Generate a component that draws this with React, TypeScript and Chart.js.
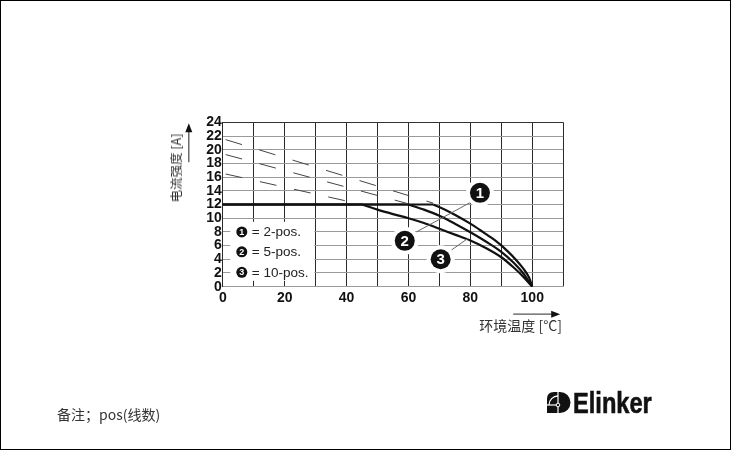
import React, { useEffect, useRef } from "react";
import { Chart, registerables } from "chart.js";

Chart.register(...registerables);

// ---- data ----
const X_LABELED_TICKS = [0, 20, 40, 60, 80, 100];
const Y_TICKS_MAX = 24;
const X_AXIS_MAX = 110;

// flat part at 12 A until derating starts
const FLAT_CURRENT = 12;
const FLAT_END = [68, 60, 45]; // 2-pos, 5-pos, 10-pos

// derating parts
const TEMP_1 = [68, 72, 76, 80, 84, 88, 92, 95, 97, 99, 100];
const CURR_1 = [12, 11.2, 10.25, 9.2, 8.0, 6.75, 5.2, 3.8, 2.7, 1.3, 0];
const TEMP_2 = [60, 65, 70, 75, 80, 85, 90, 94, 97, 100];
const CURR_2 = [12, 11.25, 10.35, 9.2, 7.95, 6.6, 5.1, 3.5, 2.0, 0];
const TEMP_3 = [45, 50, 55, 60, 65, 70, 75, 80, 85, 90, 94, 97, 100];
const CURR_3 = [12, 11.25, 10.6, 10.0, 9.3, 8.45, 7.6, 6.75, 5.65, 4.3, 2.8, 1.5, 0];

// dashed extension lines (start, end)
const DASH_TEMP = [
  [0, 68],
  [0, 60],
  [0, 45],
];
const DASH_CURR = [
  [21.6, 12.2],
  [19.4, 12.1],
  [16.55, 12.0],
];

const LEGEND_LABELS = ["2-pos.", "5-pos.", "10-pos."];
const LEGEND_ROW_Y = [8, 5.1, 2.1];

// callouts (data coordinates)
const CALLOUT_NUM = ["1", "2", "3"];
const CALLOUT_T = [83.1, 58.8, 70.4];
const CALLOUT_A = [13.7, 6.7, 4.0];
const LEADER_T = [
  [62.6, 80.4],
  [73.9, 79.3],
];
const LEADER_A = [
  [8.0, 12.4],
  [5.36, 7.07],
];

const pts = (xs: number[], ys: number[]) => xs.map((x, i) => ({ x, y: ys[i] }));

const FONT = "'Liberation Sans', Arial, Helvetica, sans-serif";

const overlay = {
  id: "overlay",
  beforeDatasetsDraw(chart: any) {
    const { ctx, chartArea: ca, scales } = chart;
    const y = scales.y;
    ctx.save();
    ctx.fillStyle = "#fff";
    ctx.fillRect(ca.left + 7.5, ca.top + 99.5, 84, 59);
    LEGEND_LABELS.forEach((lab, i) => {
      const cy = y.getPixelForValue(LEGEND_ROW_Y[i]);
      const cx = ca.left + 19;
      ctx.beginPath();
      ctx.arc(cx, cy, 5.5, 0, Math.PI * 2);
      ctx.fillStyle = "#111";
      ctx.fill();
      ctx.fillStyle = "#fff";
      ctx.font = `bold 9px ${FONT}`;
      ctx.textAlign = "center";
      ctx.textBaseline = "middle";
      ctx.fillText(String(i + 1), cx, cy + 0.5);
      ctx.fillStyle = "#222";
      ctx.font = `13.5px ${FONT}`;
      ctx.textAlign = "left";
      ctx.fillText("= " + lab, cx + 10, cy + 0.5);
    });
    ctx.restore();
  },
  afterDatasetsDraw(chart: any) {
    const { ctx, scales } = chart;
    const { x, y } = scales;
    ctx.save();
    ctx.strokeStyle = "#666";
    ctx.lineWidth = 1;
    LEADER_T.forEach((ts, i) => {
      ctx.beginPath();
      ctx.moveTo(x.getPixelForValue(ts[0]), y.getPixelForValue(LEADER_A[i][0]));
      ctx.lineTo(x.getPixelForValue(ts[1]), y.getPixelForValue(LEADER_A[i][1]));
      ctx.stroke();
    });
    CALLOUT_NUM.forEach((n, i) => {
      const cx = x.getPixelForValue(CALLOUT_T[i]);
      const cy = y.getPixelForValue(CALLOUT_A[i]);
      ctx.beginPath();
      ctx.arc(cx, cy, 14, 0, Math.PI * 2);
      ctx.fillStyle = "#fff";
      ctx.fill();
      ctx.beginPath();
      ctx.arc(cx, cy, 10, 0, Math.PI * 2);
      ctx.fillStyle = "#111";
      ctx.fill();
      ctx.fillStyle = "#fff";
      ctx.font = `bold 15px ${FONT}`;
      ctx.textAlign = "center";
      ctx.textBaseline = "middle";
      ctx.fillText(n, cx, cy + 1);
    });
    ctx.restore();
  },
  afterDraw(chart: any) {
    const { ctx, chartArea: ca } = chart;
    ctx.save();
    // y arrow
    const ax = ca.left - 34;
    ctx.strokeStyle = "#555";
    ctx.lineWidth = 1.3;
    ctx.beginPath();
    ctx.moveTo(ax, ca.top + 40);
    ctx.lineTo(ax, ca.top + 8);
    ctx.stroke();
    ctx.fillStyle = "#111";
    ctx.beginPath();
    ctx.moveTo(ax, ca.top + 1);
    ctx.lineTo(ax - 3.5, ca.top + 10);
    ctx.lineTo(ax + 3.5, ca.top + 10);
    ctx.closePath();
    ctx.fill();
    // x arrow
    const ay = ca.bottom + 27.5;
    ctx.beginPath();
    ctx.moveTo(ca.right - 50, ay);
    ctx.lineTo(ca.right - 10, ay);
    ctx.stroke();
    ctx.beginPath();
    ctx.moveTo(ca.right - 3, ay);
    ctx.lineTo(ca.right - 12, ay - 3.5);
    ctx.lineTo(ca.right - 12, ay + 3.5);
    ctx.closePath();
    ctx.fill();
    ctx.restore();
  },
};

export default function App() {
  const ref = useRef<HTMLCanvasElement>(null);

  useEffect(() => {
    if (!ref.current) return;
    const curveStyle = {
      borderColor: "#111",
      borderWidth: 2.2,
      pointRadius: 0,
      fill: false,
      cubicInterpolationMode: "monotone" as const,
    };
    const flats = FLAT_END.map((t) => ({
      ...curveStyle,
      data: pts([0, t], [FLAT_CURRENT, FLAT_CURRENT]),
    }));
    const declines = [
      pts(TEMP_1, CURR_1),
      pts(TEMP_2, CURR_2),
      pts(TEMP_3, CURR_3),
    ].map((d) => ({ ...curveStyle, data: d }));
    const dashes = DASH_TEMP.map((ts, i) => ({
      data: pts(ts, DASH_CURR[i]),
      borderColor: "#444",
      borderWidth: 1,
      borderDash: [17, 18],
      borderDashOffset: -3,
      pointRadius: 0,
      fill: false,
    }));

    const chart = new Chart(ref.current, {
      type: "line",
      data: { datasets: [...dashes, ...flats, ...declines] as any },
      options: {
        animation: false,
        responsive: false,
        devicePixelRatio: 1,
        parsing: false as any,
        layout: { padding: { left: 182.8, right: 167.8, top: 122.3, bottom: 133.3 } },
        plugins: { legend: { display: false }, tooltip: { enabled: false } },
        scales: {
          x: {
            type: "linear",
            min: 0,
            max: X_AXIS_MAX,
            afterFit: (s: any) => {
              s.height = 30;
            },
            ticks: {
              stepSize: 10,
              autoSkip: false,
              maxRotation: 0,
              padding: 3,
              color: "#111",
              font: { family: FONT, size: 14, weight: "bold" },
              callback: (v: any) => (X_LABELED_TICKS.includes(Number(v)) ? String(v) : ""),
            },
            grid: { color: "#2a2a2a", lineWidth: 1, drawTicks: false },
            border: { display: true, color: "#9a9a9a", width: 1 },
          },
          y: {
            type: "linear",
            min: 0,
            max: Y_TICKS_MAX,
            afterFit: (s: any) => {
              s.width = 40;
            },
            ticks: {
              stepSize: 2,
              autoSkip: false,
              padding: 1,
              color: "#111",
              font: { family: FONT, size: 14, weight: "bold" },
            },
            grid: {
              color: (c: any) => (c.tick && c.tick.value === Y_TICKS_MAX ? "#333" : "#9a9a9a"),
              lineWidth: 1,
              drawTicks: false,
            },
            border: { display: true, color: "#2a2a2a", width: 1 },
          },
        },
      },
      plugins: [overlay],
    });
    return () => chart.destroy();
  }, []);

  return (
    <div
      style={{
        position: "fixed",
        left: 0,
        top: 0,
        width: 731,
        height: 450,
        background: "#fff",
        overflow: "hidden",
      }}
    >
      <canvas
        ref={ref}
        width={731}
        height={450}
        style={{ position: "absolute", left: 0, top: 0, width: 731, height: 450 }}
      />
      <div
        style={{
          position: "absolute",
          left: 175.5,
          top: 167.5,
          transform: "translate(-50%, -50%) rotate(-90deg)",
          font: "12.5px 'Noto Sans CJK SC', sans-serif",
          lineHeight: "14px",
          color: "#333",
          whiteSpace: "nowrap",
        }}
      >
        电流强度 [A]
      </div>
      <div
        style={{
          position: "absolute",
          right: 169,
          top: 316,
          font: "14px 'Noto Sans CJK SC', sans-serif",
          lineHeight: "18px",
          color: "#333",
          whiteSpace: "nowrap",
        }}
      >
        环境温度 [°C]
      </div>
      <div
        style={{
          position: "absolute",
          left: 57,
          top: 405,
          font: "14px 'Noto Sans CJK SC', sans-serif",
          lineHeight: "18px",
          color: "#333",
          whiteSpace: "nowrap",
        }}
      >
        备注；pos(线数)
      </div>
      <svg
        width={25}
        height={22}
        viewBox="0 0 25 22"
        style={{ position: "absolute", left: 547, top: 391.5 }}
      >
        <path d="M0,21 V7 Q0,0 7,0 H13 A10.5,10.5 0 0 1 13,21 Z" fill="#111" />
        <path d="M2,13 A9,9 0 0 1 11,4" stroke="#fff" strokeWidth={1.3} fill="none" />
        <line x1={11} y1={0} x2={11} y2={21} stroke="#fff" strokeWidth={1.2} />
        <line x1={0} y1={13} x2={11} y2={13} stroke="#fff" strokeWidth={1.2} />
        <circle cx={11} cy={13} r={1.8} stroke="#fff" strokeWidth={1} fill="#111" />
      </svg>
      <span
        style={{
          position: "absolute",
          left: 573,
          top: 388.5,
          font: `bold 29px ${FONT}`,
          lineHeight: "29px",
          color: "#111",
          whiteSpace: "nowrap",
          transform: "scaleX(0.815)",
          transformOrigin: "left top",
          WebkitTextStroke: "0.6px #111",
        }}
      >
        Elinker
      </span>
      <div
        style={{
          position: "absolute",
          left: 0,
          top: 0,
          width: 731,
          height: 450,
          boxSizing: "border-box",
          border: "1px solid #000",
          pointerEvents: "none",
        }}
      />
    </div>
  );
}
